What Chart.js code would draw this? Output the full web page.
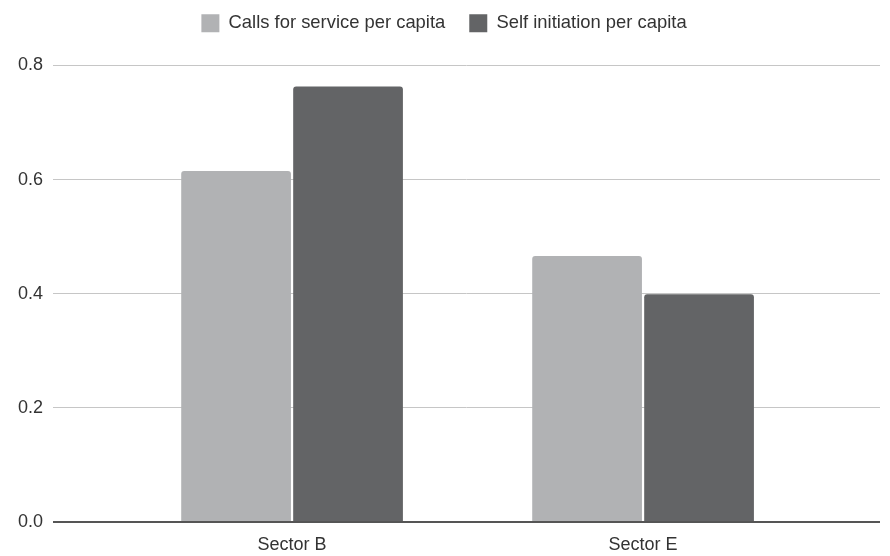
<!DOCTYPE html>
<html>
<head>
<meta charset="utf-8">
<script src="https://cdn.jsdelivr.net/npm/chart.js@4"></script>
<style>
  html, body { margin:0; padding:0; background:#fff; }
  #wrap { width:890px; height:556px; }
</style>
</head>
<body>
<div id="wrap"><canvas id="c"></canvas></div>
<script>
// Categories sit at x = 1, 2 on a linear scale so the plot can run wider than the bar groups
const sectors   = ['Sector B', 'Sector E'];
const sectorPos = [1, 2];
const callsPerCapita = [0.615, 0.466];
const selfPerCapita  = [0.763, 0.399];
const yTicks = [0, 0.2, 0.4, 0.6, 0.8];

const textCol = '#333333';
const font = { family:'"Liberation Sans", Arial, sans-serif', size:18 };

const toPts = vals => vals.map((v, i) => ({ x: sectorPos[i], y: v }));

// extra space under the legend, before the plot starts
const legendGap = {
  id: 'legendGap',
  beforeInit(chart) {
    const fit = chart.legend.fit;
    chart.legend.fit = function () {
      fit.call(this);
      this.height += 23;
    };
  }
};

new Chart(document.getElementById('c'), {
  type: 'bar',
  data: {
    datasets: [
      { label:'Calls for service per capita', data:toPts(callsPerCapita), backgroundColor:'#b1b2b4',
        borderRadius:3, borderSkipped:'bottom', categoryPercentage:0.638, barPercentage:0.98 },
      { label:'Self initiation per capita',   data:toPts(selfPerCapita),  backgroundColor:'#636466',
        borderRadius:3, borderSkipped:'bottom', categoryPercentage:0.638, barPercentage:0.98 }
    ]
  },
  options: {
    responsive: true,
    maintainAspectRatio: false,
    animation: false,
    layout: { padding:{ left:8, right:10, top:-10, bottom:0 } },
    plugins: {
      legend: {
        position:'top',
        labels: { color:textCol, font:{ ...font, size:18.4 }, boxWidth:18, boxHeight:18, padding:24 }
      },
      tooltip: { enabled:false }
    },
    scales: {
      x: {
        type:'linear',
        offset:false,
        min:0.319, max:2.675,
        grid:{ display:false, drawTicks:false },
        border:{ display:false },
        afterBuildTicks: axis => { axis.ticks = sectorPos.map(v => ({ value:v })); },
        afterFit: axis => { axis.height = 34; },
        ticks: {
          color:textCol, font, padding:12, maxRotation:0,
          callback: v => sectors[sectorPos.indexOf(v)] ?? ''
        }
      },
      y: {
        min:0, max:0.8,
        afterBuildTicks: axis => { axis.ticks = yTicks.map(v => ({ value:v })); },
        grid: {
          drawTicks:false,
          color: ctx => ctx.tick && ctx.tick.value === 0 ? '#555555' : '#c6c6c6',
          lineWidth: ctx => ctx.tick && ctx.tick.value === 0 ? 2 : 1
        },
        border:{ display:false },
        ticks: { color:textCol, font, padding:10, callback: v => v.toFixed(1) }
      }
    }
  },
  plugins: [legendGap]
});
</script>
</body>
</html>
